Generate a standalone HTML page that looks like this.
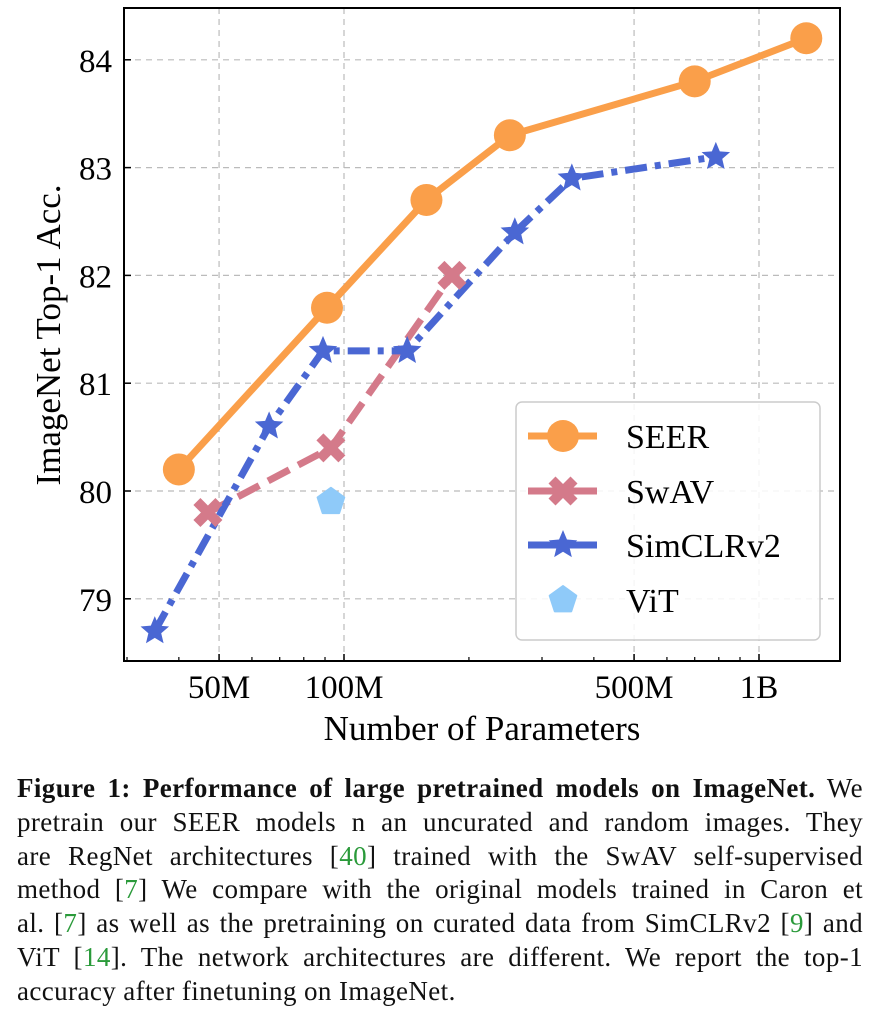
<!DOCTYPE html>
<html><head><meta charset="utf-8"><style>
body{margin:0;background:#fff;width:874px;height:1014px;overflow:hidden;font-family:"Liberation Serif",serif}
#cap{position:absolute;left:17px;top:772px;width:846px;font-size:27px;letter-spacing:0.4px;line-height:33.8px;color:#111}
#cap div{text-align:justify;text-align-last:justify;white-space:nowrap}
#cap div.last{text-align-last:left}
#cap a{color:#2a9a3a;text-decoration:none}
</style></head><body>
<svg id="chart" width="874" height="770" style="position:absolute;left:0;top:0" font-family="Liberation Serif, serif"></svg>
<div id="cap">
<div><b>Figure 1: Performance of large pretrained models on ImageNet.</b> We</div>
<div>pretrain our SEER models n an uncurated and random images. They</div>
<div>are RegNet architectures [<a>40</a>] trained with the SwAV self-supervised</div>
<div>method [<a>7</a>] We compare with the original models trained in Caron et</div>
<div>al. [<a>7</a>] as well as the pretraining on curated data from SimCLRv2 [<a>9</a>] and</div>
<div>ViT [<a>14</a>]. The network architectures are different. We report the top-1</div>
<div class="last">accuracy after finetuning on ImageNet.</div>
</div>
<script>
const seerX=[40e6,91e6,158e6,251e6,700e6,1.3e9];
const seerY=[80.2,81.7,82.7,83.3,83.8,84.2];
const swavX=[47e6,93e6,182e6];
const swavY=[79.8,80.4,82.0];
const simX=[35e6,66e6,89e6,142e6,258e6,354e6,787e6];
const simY=[78.7,80.6,81.3,81.3,82.4,82.9,83.1];
const vitX=[93e6];
const vitY=[79.9];
const yTicks=[79,80,81,82,83,84];
const xTicks=[5e7,1e8,5e8,1e9];
const xTickLabels=["50M","100M","500M","1B"];
const legendLabels=["SEER","SwAV","SimCLRv2","ViT"];

const NS="http://www.w3.org/2000/svg",svg=document.getElementById('chart');
const L=124,R=840,T=8,B=661;
const sx=v=>344+(Math.log10(v)-8)*415;
const sy=v=>491-(v-80)*107.8;
function el(t,a,p){const e=document.createElementNS(NS,t);for(const k in a)e.setAttribute(k,a[k]);(p||svg).appendChild(e);return e;}
yTicks.forEach(v=>{const g=el('line',{x1:L,x2:R,y1:sy(v),y2:sy(v),stroke:'#bbb','stroke-dasharray':'6,5','stroke-width':1.2});

const tk=el('line',{x1:L,x2:L+7,y1:sy(v),y2:sy(v),stroke:'#000','stroke-width':1.5});

const t=el('text',{x:L-12,y:sy(v)+12,'text-anchor':'end','font-size':33});t.textContent=v;
});
xTicks.forEach((v,i)=>{const g=el('line',{x1:sx(v),x2:sx(v),y1:T,y2:B,stroke:'#bbb','stroke-dasharray':'6,5','stroke-width':1.2});

const tk=el('line',{x1:sx(v),x2:sx(v),y1:B,y2:B-7,stroke:'#000','stroke-width':1.5});

const t=el('text',{x:sx(v),y:B+37,'text-anchor':'middle','font-size':33});t.textContent=xTickLabels[i];
});
[3e7,4e7,6e7,7e7,8e7,9e7,2e8,3e8,4e8,6e8,7e8,8e8,9e8,2e9].forEach(v=>{if(sx(v)>L&&sx(v)<R){const m=el('line',{x1:sx(v),x2:sx(v),y1:B,y2:B-4,stroke:'#000','stroke-width':1.2});
}});
function poly(xs,ys,c,dash,name){const p=el('polyline',{points:xs.map((x,i)=>sx(x)+','+sy(ys[i])).join(' '),fill:'none',stroke:c,'stroke-width':7,'stroke-dasharray':dash||'none'});
}
const cS='#fa9f4a',cW='#d47a8a',cC='#4a67d3',cV='#8fcaf9';
function star(x,y,r,c){let pts=[];for(let i=0;i<10;i++){const a=-Math.PI/2+i*Math.PI/5,rr=i%2?r*0.45:r;pts.push((x+rr*Math.cos(a))+','+(y+rr*Math.sin(a)));}return el('polygon',{points:pts.join(' '),fill:c});}
function pent(x,y,r,c){let pts=[];for(let i=0;i<5;i++){const a=-Math.PI/2+i*2*Math.PI/5;pts.push((x+r*Math.cos(a))+','+(y+r*Math.sin(a)));}return el('polygon',{points:pts.join(' '),fill:c,stroke:c,'stroke-width':2,'stroke-linejoin':'round'});}
function cross(x,y,r,c){const g=el('g',{});el('line',{x1:x-r,y1:y-r,x2:x+r,y2:y+r,stroke:c,'stroke-width':r*0.9},g);el('line',{x1:x-r,y1:y+r,x2:x+r,y2:y-r,stroke:c,'stroke-width':r*0.9},g);return g;}
poly(swavX,swavY,cW,'24,10','swav-line');
poly(simX,simY,cC,'22,8,6,8','simclrv2-line');
poly(seerX,seerY,cS,null,'seer-line');
seerX.forEach((x,i)=>{const m=el('circle',{cx:sx(x),cy:sy(seerY[i]),r:16,fill:cS});});
swavX.forEach((x,i)=>{const m=cross(sx(x),sy(swavY[i]),11,cW);});
simX.forEach((x,i)=>{const m=star(sx(x),sy(simY[i]),15,cC);});
vitX.forEach((x,i)=>{const m=pent(sx(x),sy(vitY[i]),14,cV);});
const f=el('rect',{x:L,y:T,width:R-L,height:B-T,fill:'none',stroke:'#000','stroke-width':2});

const lb=el('rect',{x:516,y:402,width:304,height:238,rx:6,fill:'#fff','fill-opacity':0.85,stroke:'#ccc','stroke-width':1.5});

const ly=[436,491,545,600],cols=[cS,cW,cC,cV];
legendLabels.forEach((lab,i)=>{const y=ly[i];
if(i<3){const ln=el('line',{x1:528,x2:597,y1:y,y2:y,stroke:cols[i],'stroke-width':7});}
const m=i==0?el('circle',{cx:563,cy:y,r:16,fill:cS}):i==1?cross(563,y,11,cW):i==2?star(563,y,15,cC):pent(563,y,14,cV);

const t=el('text',{x:626,y:y+12,'font-size':34});t.textContent=lab;
});
const xt=el('text',{x:482,y:740,'text-anchor':'middle','font-size':35});xt.textContent='Number of Parameters';

const yt=el('text',{x:0,y:0,'text-anchor':'middle','font-size':35,transform:'translate(60,335) rotate(-90)'});yt.textContent='ImageNet Top-1 Acc.';

</script>
</body></html>
